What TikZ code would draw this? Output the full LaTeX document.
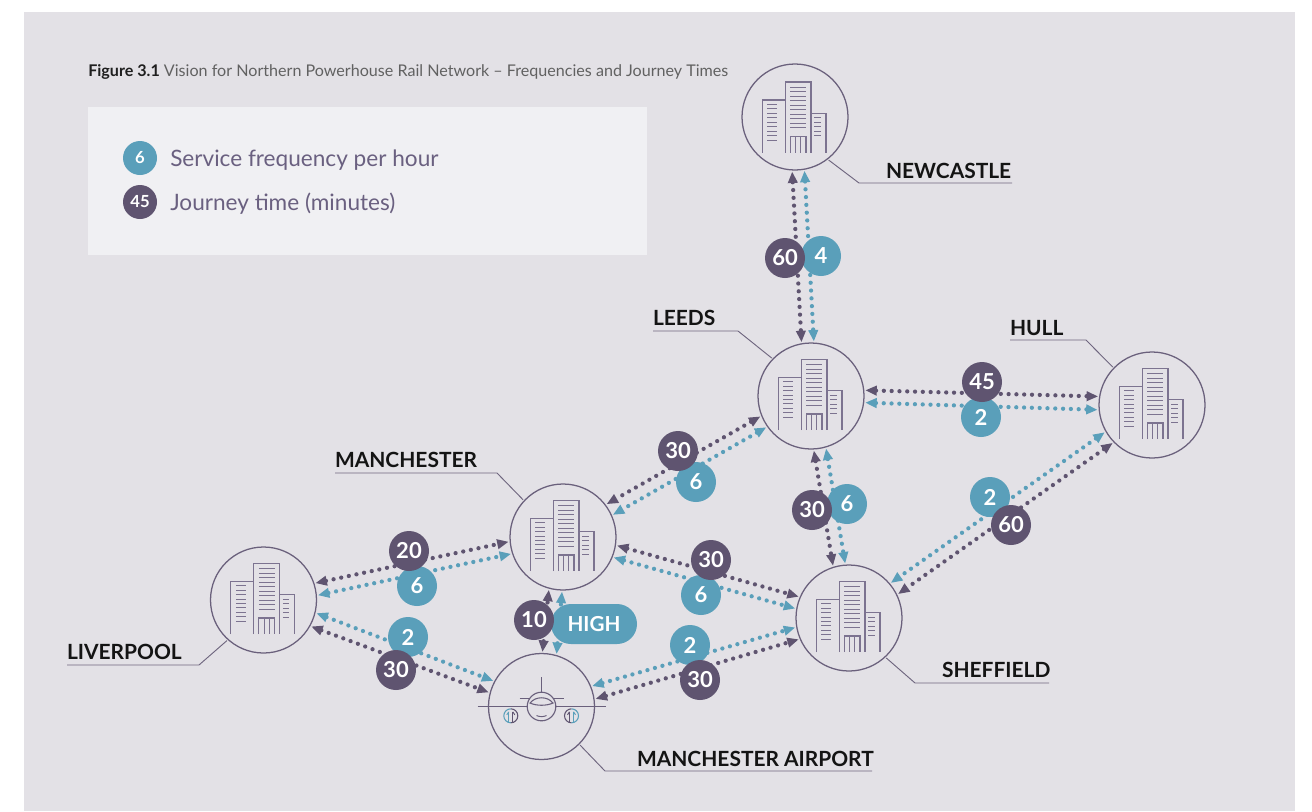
\documentclass[tikz,border=0pt]{standalone}
\usepackage{fontspec}
\setmainfont{Lato}
\usetikzlibrary{arrows.meta,calc}
\definecolor{panel}{HTML}{E3E1E6}
\definecolor{legbox}{HTML}{F0F0F3}
\definecolor{dk}{HTML}{5F5470}
\definecolor{tl}{HTML}{5A9FBA}
\definecolor{ring}{HTML}{6A607C}
\definecolor{icon}{HTML}{7C7390}
\definecolor{legtxt}{HTML}{6A6080}
\definecolor{lead}{HTML}{6F667F}
\tikzset{
  x=0.75pt,y=-0.75pt,
  hub/.style={circle,draw=ring,line width=0.95pt,minimum size=79.5pt,inner sep=0pt,outer sep=1.2pt},
  linkbase/.style={line width=3.2pt,line cap=round,dash pattern=on 0pt off 5.85pt,
    {Triangle[length=8.6pt,width=7pt,line cap=butt]}-{Triangle[length=8.6pt,width=7pt,line cap=butt]}},
  dlink/.style={linkbase,draw=dk,color=dk},
  tlink/.style={linkbase,draw=tl,color=tl},
  badge/.style={circle,minimum size=30pt,inner sep=0pt,text=white,font=\fontsize{16.5}{18}\selectfont\bfseries},
  dbadge/.style={badge,fill=dk},
  tbadge/.style={badge,fill=tl},
  lbadge/.style={circle,minimum size=25.5pt,inner sep=0pt,text=white,font=\fontsize{12.5}{14}\selectfont\bfseries},
  place/.style={inner sep=0pt,outer sep=0pt,text=black!92,font=\fontsize{15.7}{18}\selectfont\bfseries,anchor=base west},
  leader/.style={draw=lead,line width=0.7pt},
  legtext/.style={inner sep=0pt,text=legtxt,font=\fontsize{16.95}{20}\selectfont,anchor=base west},
  building/.pic={
    \draw[icon,line width=0.85pt]
      (-32.7,35.7)--(-32.7,-17)--(-9.7,-17) (-9.7,35.7)--(-9.7,-35)--(16,-35)--(16,35.7)
      (16,-3.7)--(31,-3.7)--(31,35.7)
      (-4.7,35.7)--(-4.7,19.7)--(11,19.7)--(11,35.7) (0.7,19.7)--(0.7,35.7) (5.7,19.7)--(5.7,35.7);
    \foreach \k in {0,...,9}{\draw[icon,line width=0.75pt] (-4.7,-29.7+4.5*\k)--(11,-29.7+4.5*\k);}
    \foreach \k in {0,...,8}{\draw[icon,line width=0.75pt] (-27.7,-12.7+4.47*\k)--(-17.7,-12.7+4.47*\k);}
    \foreach \k in {0,...,4}{\draw[icon,line width=0.75pt] (19.3,0.7+4.5*\k)--(25.7,0.7+4.5*\k);}
  },
  plane/.pic={
    \draw[ring,line width=0.85pt] (-64,0)--(64,0) (0,-29.3)--(0,-14) (-22,-7.7)--(22,-7.7);
    \fill[panel] (0,0) circle[radius=14.3];
    \draw[ring,line width=0.85pt] (0,0) circle[radius=14.3];
    \draw[ring,line width=0.8pt] (-11.5,-3.5) .. controls (-6,-10.5) and (6,-10.5) .. (11.5,-3.5)
       .. controls (5,-0.5) and (-5,-0.5) .. cycle;
    \draw[ring,line width=0.7pt] (-5,9) .. controls (-2,10.5) and (2,10.5) .. (5,9);
    \foreach \ex/\ca/\cb in {-30.7/tl/dk,30/dk/tl}{
      \begin{scope}[shift={(\ex,9.3)}]
        \draw[\ca,line width=0.8pt] (0,-7) arc[start angle=-90,end angle=-270,radius=7];
        \draw[\cb,line width=0.8pt] (0,-7) arc[start angle=-90,end angle=90,radius=7];
        \draw[\ca,line width=0.7pt] (-2,7)--(-2,-4);
        \draw[\cb,line width=0.7pt] (2,7)--(2,-4);
        \draw[\ca,line width=0.7pt] (-4,-1)--(-2,-4);
        \draw[\cb,line width=0.7pt] (4,-1)--(2,-4);
      \end{scope}}
  }
}
\begin{document}
\begin{tikzpicture}
\useasboundingbox (0,0) rectangle (1312,811);
\fill[white] (0,0) rectangle (1312,811);
\fill[panel] (24,12) rectangle (1295,811);
\fill[legbox] (88,107) rectangle (647,255);

\node[inner sep=0pt,anchor=base west,font=\fontsize{12.08}{14}\selectfont,text=black!62] (title) at (88,76.8)
  {{\bfseries\color{black!88}Figure 3.1} Vision for Northern Powerhouse Rail Network – Frequencies and Journey Times};

\node[lbadge,fill=tl] (legf) at (140,158) {6};
\node[lbadge,fill=dk] (legj) at (140,202) {45};
\node[legtext] (legft) at (170,166) {Service frequency per hour};
\node[legtext] (legjt) at (170,210.5) {Journey time (minutes)};

% hubs
\node[hub] (newcastle) at (795,117) {};
\node[hub] (leeds) at (811,396) {};
\node[hub] (hull) at (1152,405) {};
\node[hub] (manchester) at (563,537) {};
\node[hub] (sheffield) at (849,618) {};
\node[hub] (liverpool) at (263.5,600) {};
\node[hub] (airport) at (541.5,706.5) {};
\pic at (newcastle) {building};
\pic at ($(leeds)+(0,-1.7)$) {building};
\pic at ($(hull)+(0,-1.7)$) {building};
\pic at ($(manchester)+(0,-1.7)$) {building};
\pic at ($(sheffield)+(0,-1.7)$) {building};
\pic at ($(liverpool)+(0,-1.7)$) {building};
\pic at (airport) {plane};

% connectors
\draw[dlink] (newcastle.267) -- (leeds.100);
\draw[tlink] (newcastle.280) -- (leeds.87);
\draw[dlink] (leeds.6) -- (hull.171.6);
\draw[tlink] (leeds.-7) -- (hull.185);
\draw[dlink] (leeds.202.4) -- (manchester.37.7);
\draw[tlink] (leeds.215.4) -- (manchester.24.3);
\draw[dlink] (leeds.273) -- (sheffield.107.8);
\draw[tlink] (leeds.286.8) -- (sheffield.94.2);
\draw[tlink] (hull.210) -- (sheffield.40.5);
\draw[dlink] (hull.224) -- (sheffield.26.6);
\draw[dlink] (manchester.-9.5) -- (sheffield.157.6);
\draw[tlink] (manchester.-22.4) -- (sheffield.170.5);
\draw[dlink] (liverpool.18.3) -- (manchester.185.3);
\draw[tlink] (liverpool.5.3) -- (manchester.198.4);
\draw[tlink] (liverpool.-14.7) -- (airport.152.3);
\draw[dlink] (liverpool.-29) -- (airport.165.8);
\draw[dlink] (airport.89.5) -- (manchester.255.5);
\draw[tlink] (airport.74.8) -- (manchester.269);
\draw[tlink] (airport.22) -- (sheffield.190.5);
\draw[dlink] (airport.8.9) -- (sheffield.203.3);

% teal badges
\node[tbadge] (t1) at (821,256) {4};
\node[tbadge] (t2) at (981,417) {2};
\node[tbadge] (t3) at (696,482) {6};
\node[tbadge] (t4) at (847,504) {6};
\node[tbadge] (t5) at (990,497) {2};
\node[tbadge] (t6) at (701,595) {6};
\node[tbadge] (t7) at (690,645) {2};
\node[tbadge] (t8) at (417,586) {6};
\node[tbadge] (t9) at (408,637) {2};
\node[fill=tl,rounded corners=15pt,minimum width=64.5pt,minimum height=30pt,inner sep=0pt,text=white,
  font=\fontsize{15.5}{18}\selectfont\bfseries] (high) at (594,624) {HIGH};
% dark badges
\node[dbadge] (d1) at (785,258) {60};
\node[dbadge] (d2) at (982,382) {45};
\node[dbadge] (d3) at (678,451) {30};
\node[dbadge] (d4) at (812,510) {30};
\node[dbadge] (d5) at (1011,525) {60};
\node[dbadge] (d6) at (711,560) {30};
\node[dbadge] (d7) at (700,680) {30};
\node[dbadge] (d8) at (409,551) {20};
\node[dbadge] (d9) at (396,670) {30};
\node[dbadge] (d10) at (534,620) {10};

% place labels and leaders
\node[place] (lnew) at (886,178) {NEWCASTLE};
\coordinate (knew) at (859,183); \coordinate (enew) at (1012,183);
\draw[leader] (newcastle.-52) -- (knew) -- (enew);
\node[place] (llee) at (653,325) {LEEDS};
\coordinate (klee) at (738,331); \coordinate (slee) at (653,331);
\draw[leader] (leeds.136) -- (klee) -- (slee);
\node[place] (lhul) at (1010,335) {HULL};
\coordinate (khul) at (1086,340); \coordinate (shul) at (1010,340);
\draw[leader] (hull.136) -- (khul) -- (shul);
\node[place] (lman) at (335,467) {MANCHESTER};
\coordinate (kman) at (497,473); \coordinate (sman) at (335,473);
\draw[leader] (manchester.137) -- (kman) -- (sman);
\node[place] (lliv) at (67,659) {LIVERPOOL};
\coordinate (kliv) at (199,665); \coordinate (sliv) at (67,665);
\draw[leader] (liverpool.-132) -- (kliv) -- (sliv);
\node[place] (lshe) at (942,677) {SHEFFIELD};
\coordinate (kshe) at (915,683); \coordinate (eshe) at (1049,683);
\draw[leader] (sheffield.-47) -- (kshe) -- (eshe);
\node[place] (lair) at (637,766) {MANCHESTER AIRPORT};
\coordinate (kair) at (605,771); \coordinate (eair) at (872,771);
\draw[leader] (airport.-45) -- (kair) -- (eair);
\end{tikzpicture}
\end{document}
